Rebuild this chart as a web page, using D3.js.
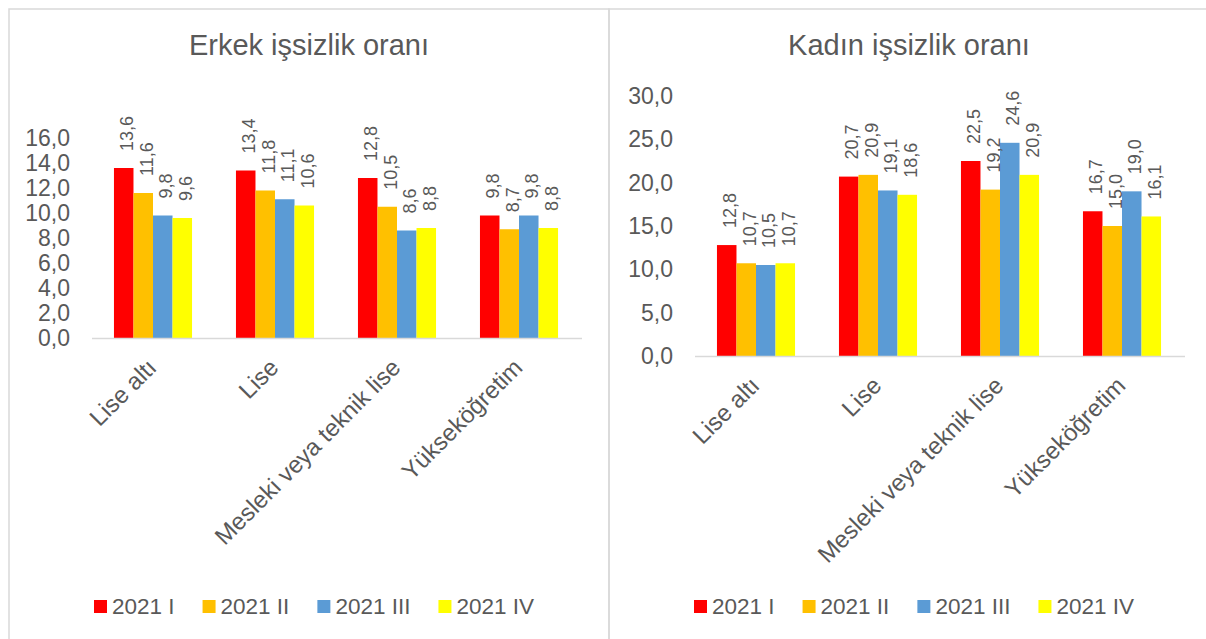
<!DOCTYPE html>
<html>
<head>
<meta charset="utf-8">
<script src="https://cdn.jsdelivr.net/npm/d3@7"></script>
<style>
  html, body { margin: 0; padding: 0; background: #fff; }
  svg { display: block; font-family: "Liberation Sans", Arial, sans-serif; }
</style>
</head>
<body>
<div id="chart"></div>
<script>
const categories = ["Lise altı", "Lise", "Mesleki veya teknik lise", "Yükseköğretim"];
const seriesNames = ["2021 I", "2021 II", "2021 III", "2021 IV"];
const seriesColors = ["#FF0000", "#FFC000", "#5B9BD5", "#FFFF00"];

// one row per category, one value per quarter
const maleValues = [
  [13.6, 11.6, 9.8, 9.6],
  [13.4, 11.8, 11.1, 10.6],
  [12.8, 10.5, 8.6, 8.8],
  [9.8, 8.7, 9.8, 8.8],
];
const femaleValues = [
  [12.8, 10.7, 10.5, 10.7],
  [20.7, 20.9, 19.1, 18.6],
  [22.5, 19.2, 24.6, 20.9],
  [16.7, 15.0, 19.0, 16.1],
];

const maleTicks = [0, 2, 4, 6, 8, 10, 12, 14, 16];
const femaleTicks = [0, 5, 10, 15, 20, 25, 30];

const TEXT_COLOR = "#595959";
const LINE_COLOR = "#D9D9D9";

const width = 1206;
const height = 639;

const svg = d3
  .select("#chart")
  .append("svg")
  .attr("width", width)
  .attr("height", height);

const fmt = (v) => d3.format(".1f")(v).replace(".", ",");

function drawPanel(panel) {
  const g = svg.append("g").attr("transform", `translate(${panel.x0},0)`);

  // panel frame
  g.append("rect")
    .attr("x", 0)
    .attr("y", 9)
    .attr("width", 600)
    .attr("height", 650)
    .attr("fill", "none")
    .attr("stroke", LINE_COLOR)
    .attr("stroke-width", 1.5);

  g.append("text")
    .attr("x", 300)
    .attr("y", 55)
    .attr("text-anchor", "middle")
    .attr("fill", TEXT_COLOR)
    .attr("font-size", "29px")
    .text(panel.title);

  const x0 = d3
    .scaleBand()
    .domain(categories)
    .range([panel.plotLeft, panel.plotLeft + 488])
    .paddingInner(0.36)
    .paddingOuter(0.18);

  const x1 = d3
    .scaleBand()
    .domain(seriesNames)
    .range([0, x0.bandwidth()]);

  const y = d3
    .scaleLinear()
    .domain([0, panel.yMax])
    .range([panel.yBottom, panel.yTop]);

  // y tick labels only, no tick marks or axis line
  const yAxis = g
    .append("g")
    .attr("transform", `translate(${panel.plotLeft},0)`)
    .call(d3.axisLeft(y).tickValues(panel.ticks).tickFormat(fmt).tickSize(0).tickPadding(22));
  yAxis.select(".domain").remove();
  yAxis
    .selectAll("text")
    .attr("fill", TEXT_COLOR)
    .attr("font-size", "23px")
    .attr("font-family", "Liberation Sans, Arial, sans-serif");

  const groups = g
    .selectAll("g.cat")
    .data(panel.values.map((row, i) => ({ cat: categories[i], row })))
    .enter()
    .append("g")
    .attr("class", "cat")
    .attr("transform", (d) => `translate(${x0(d.cat)},0)`);

  groups
    .selectAll("rect")
    .data((d) => d.row.map((v, j) => ({ name: seriesNames[j], v, color: seriesColors[j] })))
    .enter()
    .append("rect")
    .attr("x", (d) => x1(d.name))
    .attr("y", (d) => y(d.v))
    .attr("width", x1.bandwidth())
    .attr("height", (d) => y(0) - y(d.v))
    .attr("fill", (d) => d.color);

  // rotated value labels above each bar
  groups
    .selectAll("text.val")
    .data((d) => d.row.map((v, j) => ({ name: seriesNames[j], v })))
    .enter()
    .append("text")
    .attr("class", "val")
    .attr("transform", (d) => {
      const cx = x1(d.name) + x1.bandwidth() / 2 + 3;
      return `translate(${cx},${y(d.v) - 17}) rotate(-90)`;
    })
    .attr("dy", "0.35em")
    .attr("fill", TEXT_COLOR)
    .attr("font-size", "18px")
    .text((d) => fmt(d.v));

  // category axis baseline
  g.append("line")
    .attr("x1", panel.plotLeft)
    .attr("x2", panel.plotLeft + 490)
    .attr("y1", y(0) + 0.5)
    .attr("y2", y(0) + 0.5)
    .attr("stroke", LINE_COLOR)
    .attr("stroke-width", 1.5);

  g.selectAll("text.cat-label")
    .data(categories)
    .enter()
    .append("text")
    .attr("class", "cat-label")
    .attr("transform", (d) => {
      const cx = x0(d) + x0.bandwidth() / 2 + 5;
      return `translate(${cx},${y(0) + 31}) rotate(-45)`;
    })
    .attr("text-anchor", "end")
    .attr("fill", TEXT_COLOR)
    .attr("font-size", "24px")
    .text((d) => d);

  // legend along the bottom
  const legend = g.append("g").attr("transform", `translate(85,600)`);
  let lx = 0;
  seriesNames.forEach((name, i) => {
    legend
      .append("rect")
      .attr("x", lx)
      .attr("y", 0)
      .attr("width", 13)
      .attr("height", 13)
      .attr("fill", seriesColors[i]);
    const t = legend
      .append("text")
      .attr("x", lx + 18)
      .attr("y", 14)
      .attr("fill", TEXT_COLOR)
      .attr("font-size", "22.5px")
      .text(name);
    lx += 18 + t.node().getComputedTextLength() + 28;
  });
}

drawPanel({
  x0: 9,
  title: "Erkek işsizlik oranı",
  values: maleValues,
  ticks: maleTicks,
  yMax: 16,
  yTop: 138,
  yBottom: 338,
  plotLeft: 83,
});

drawPanel({
  x0: 609,
  title: "Kadın işsizlik oranı",
  values: femaleValues,
  ticks: femaleTicks,
  yMax: 30,
  yTop: 96,
  yBottom: 356,
  plotLeft: 86,
});
</script>
</body>
</html>
